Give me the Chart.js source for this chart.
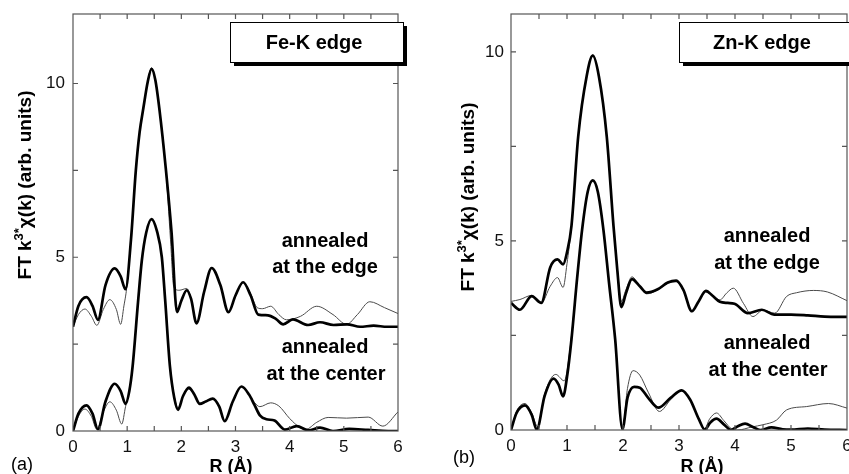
<!DOCTYPE html>
<html><head><meta charset="utf-8">
<script src="https://cdn.jsdelivr.net/npm/chart.js@4.4.1/dist/chart.umd.min.js"></script>
<style>
html,body{margin:0;padding:0;background:#fff;}
body{width:849px;height:474px;overflow:hidden;position:relative;}
canvas{position:absolute;top:0;}
#ca{left:0;} #cb{left:425px;}
</style></head>
<body>
<canvas id="ca" width="425" height="474"></canvas>
<canvas id="cb" width="424" height="474"></canvas>
<script>
// ---------- tick labels ----------
const xMajorTicks = [0, 1, 2, 3, 4, 5, 6];
const yLabelTicks = [0, 5, 10];
const yMarkTicks = [0, 2.5, 5, 7.5, 10];

// ---------- panel (a) Fe-K edge ----------
const feEdgeBoldR = [0,0.1,0.25,0.36,0.46,0.6,0.77,0.88,0.97,1.07,1.16,1.23,1.3,1.38,1.45,1.52,1.6,1.71,1.82,1.92,2.0,2.1,2.18,2.28,2.42,2.56,2.72,2.87,3.0,3.14,3.28,3.42,3.6,3.75,3.88,4.06,4.34,4.56,4.81,5.06,5.3,5.55,5.8,6.0];
const feEdgeBoldV = [3.0,3.6,3.85,3.6,3.2,4.2,4.68,4.45,4.08,5.5,7.5,8.6,9.3,10.05,10.42,10.1,9.2,7.6,5.7,3.42,3.75,4.05,3.8,3.1,4.0,4.69,4.2,3.42,3.9,4.28,3.9,3.35,3.33,3.22,3.07,3.21,3.05,3.13,3.05,3.07,3.0,3.03,3.0,3.0];
const feEdgeThinR = [0,0.1,0.22,0.34,0.44,0.56,0.68,0.8,0.88,0.94,0.99,1.07,1.16,1.23,1.3,1.38,1.45,1.52,1.6,1.71,1.8,1.86,1.96,2.1,2.18,2.28,2.42,2.56,2.72,2.87,3.0,3.14,3.28,3.4,3.5,3.65,3.8,3.94,4.2,4.5,4.8,5.05,5.25,5.48,5.75,6.0];
const feEdgeThinV = [3.0,3.35,3.51,3.3,3.04,3.5,3.78,3.5,3.07,3.6,4.1,5.5,7.5,8.6,9.3,10.05,10.45,10.1,9.2,7.6,5.5,4.15,4.05,4.1,3.8,3.1,4.0,4.69,4.2,3.42,3.9,4.28,3.95,3.55,3.52,3.59,3.35,3.2,3.3,3.59,3.35,3.07,3.35,3.72,3.55,3.38];
const feCenterBoldR = [0,0.1,0.25,0.36,0.46,0.6,0.77,0.88,0.97,1.04,1.1,1.2,1.27,1.35,1.45,1.55,1.64,1.7,1.79,1.87,1.94,2.03,2.14,2.24,2.34,2.45,2.58,2.7,2.8,2.95,3.11,3.25,3.35,3.45,3.57,3.72,3.91,4.13,4.35,4.56,4.8,5.1,5.45,5.82,6.0];
const feCenterBoldV = [0,0.5,0.74,0.5,0.05,0.85,1.36,1.15,0.78,1.15,1.85,3.7,4.9,5.7,6.1,5.75,5.0,3.8,1.85,0.95,0.61,1.0,1.25,1.05,0.78,0.85,0.93,0.7,0.28,0.85,1.28,1.05,0.75,0.45,0.34,0.3,0.04,0.14,0.02,0.1,0.0,0.06,0.03,0.0,0.0];
const feCenterThinR = [0,0.1,0.22,0.34,0.44,0.56,0.68,0.8,0.9,0.97,1.04,1.1,1.2,1.27,1.35,1.45,1.55,1.64,1.7,1.79,1.87,1.94,2.03,2.14,2.24,2.34,2.45,2.58,2.7,2.8,2.95,3.11,3.25,3.35,3.45,3.65,3.8,4.0,4.19,4.3,4.5,4.71,5.05,5.45,5.72,6.0];
const feCenterThinV = [0,0.42,0.63,0.42,0.05,0.55,0.84,0.6,0.2,0.7,1.15,1.85,3.7,4.9,5.7,6.1,5.75,5.0,3.8,1.85,1.0,0.66,1.0,1.2,1.05,0.8,0.85,0.93,0.7,0.3,0.85,1.28,1.05,0.82,0.7,0.81,0.72,0.36,0.1,0.05,0.25,0.39,0.37,0.4,0.14,0.55];

// ---------- panel (b) Zn-K edge ----------
const znEdgeBoldR = [0,0.16,0.37,0.54,0.7,0.83,0.93,1.0,1.08,1.2,1.35,1.46,1.57,1.71,1.83,1.9,1.97,2.05,2.16,2.3,2.42,2.62,2.8,2.95,3.08,3.23,3.35,3.48,3.6,3.73,3.87,3.99,4.23,4.48,4.7,5.0,5.3,5.6,6.0];
const znEdgeBoldV = [3.36,3.18,3.54,3.36,4.3,4.51,4.38,4.7,5.4,7.76,9.35,9.9,9.35,7.76,5.4,4.2,3.25,3.6,3.99,3.8,3.63,3.72,3.9,3.95,3.7,3.14,3.4,3.68,3.55,3.39,3.36,3.34,3.09,3.18,3.05,3.05,3.03,3.0,2.99];
const znEdgeThinR = [0,0.16,0.37,0.54,0.7,0.83,0.93,1.0,1.08,1.2,1.35,1.46,1.57,1.71,1.83,1.9,1.97,2.05,2.16,2.3,2.42,2.62,2.8,2.95,3.08,3.23,3.35,3.48,3.6,3.73,3.85,3.97,4.15,4.32,4.5,4.71,4.92,5.1,5.4,5.65,6.0];
const znEdgeThinV = [3.4,3.45,3.56,3.36,3.8,4.03,3.77,4.4,5.4,7.76,9.35,9.92,9.35,7.76,5.4,4.25,3.4,3.7,4.05,3.8,3.6,3.7,3.88,3.92,3.68,3.15,3.4,3.65,3.55,3.44,3.62,3.75,3.35,3.0,3.17,3.09,3.53,3.63,3.69,3.65,3.42];
const znCenterBoldR = [0,0.1,0.25,0.37,0.46,0.6,0.76,0.85,0.93,1.0,1.08,1.18,1.27,1.37,1.46,1.55,1.65,1.75,1.86,1.99,2.08,2.2,2.3,2.45,2.63,2.85,3.05,3.2,3.35,3.46,3.56,3.67,3.8,3.93,4.05,4.18,4.32,4.45,4.65,4.85,5.0,5.3,5.6,6.0];
const znCenterBoldV = [0,0.45,0.65,0.4,0.01,0.9,1.36,1.2,0.89,1.4,2.4,4.0,5.3,6.3,6.6,6.3,5.3,3.9,2.4,0.02,0.85,1.14,1.12,0.85,0.59,0.85,1.05,0.8,0.3,0.01,0.2,0.3,0.15,0.0,0.1,0.17,0.08,0.0,0.07,0.02,0.01,0.04,0.01,0.0];
const znCenterThinR = [0,0.1,0.25,0.37,0.48,0.6,0.8,0.95,1.05,1.18,1.27,1.37,1.46,1.55,1.65,1.75,1.86,1.99,2.08,2.18,2.3,2.45,2.65,2.85,3.05,3.2,3.35,3.45,3.55,3.67,3.8,3.95,4.05,4.3,4.5,4.74,4.92,5.28,5.67,6.0];
const znCenterThinV = [0,0.5,0.7,0.45,0.08,0.95,1.47,1.3,2.1,4.0,5.3,6.3,6.6,6.3,5.3,3.9,2.4,0.02,1.1,1.57,1.45,1.0,0.49,0.8,1.05,0.8,0.3,0.02,0.3,0.45,0.25,0.02,0.0,0.08,0.14,0.26,0.53,0.62,0.7,0.58];

const FONT = '"Liberation Sans", Arial, Helvetica, sans-serif';
const pts = (R, V) => R.map((r, i) => ({x: r, y: V[i]}));

const framePlugin = {
  id: 'frame',
  afterDatasetsDraw(chart) {
    const {ctx, chartArea: a, scales: {x, y}} = chart;
    ctx.save();
    ctx.strokeStyle = '#555';
    ctx.lineWidth = 1.2;
    ctx.strokeRect(a.left, a.top, a.right - a.left, a.bottom - a.top);
    const L = 5;
    ctx.beginPath();
    x.ticks.forEach(t => {
      const px = x.getPixelForValue(t.value);
      if (px <= a.left + 1 || px >= a.right - 1) return;
      ctx.moveTo(px, a.bottom); ctx.lineTo(px, a.bottom - L);
      ctx.moveTo(px, a.top); ctx.lineTo(px, a.top + L);
    });
    y.ticks.forEach(t => {
      const py = y.getPixelForValue(t.value);
      if (py >= a.bottom - 1) return;
      ctx.moveTo(a.left, py); ctx.lineTo(a.left + L, py);
      ctx.moveTo(a.right, py); ctx.lineTo(a.right - L, py);
    });
    ctx.stroke();
    ctx.restore();
  }
};

function decoPlugin(cfg) {
  return {
    id: 'deco',
    afterDraw(chart) {
      const ctx = chart.ctx;
      ctx.save();
      // label box with shadow
      const b = cfg.box;
      ctx.fillStyle = '#000';
      ctx.fillRect(b.x + 4, b.y + 4, b.w, b.h);
      ctx.fillStyle = '#fff';
      ctx.fillRect(b.x, b.y, b.w, b.h);
      ctx.strokeStyle = '#000'; ctx.lineWidth = 1;
      ctx.strokeRect(b.x + 0.5, b.y + 0.5, b.w, b.h);
      ctx.fillStyle = '#000';
      ctx.textAlign = 'center'; ctx.textBaseline = 'middle';
      ctx.font = 'bold 20px ' + FONT;
      ctx.fillText(b.text, b.tx, b.ty);
      // annotations
      cfg.notes.forEach(n => ctx.fillText(n[0], n[1], n[2]));
      // x title
      ctx.font = 'bold 18px ' + FONT;
      ctx.fillText('R (Å)', cfg.xTitle[0], cfg.xTitle[1]);
      // panel letter
      ctx.font = '18px ' + FONT;
      ctx.textAlign = 'left';
      ctx.fillText(cfg.letter[0], cfg.letter[1], cfg.letter[2]);
      // y title with superscript
      ctx.translate(cfg.yTitle[0], cfg.yTitle[1]);
      ctx.rotate(-Math.PI / 2);
      const big = 'bold 19px ' + FONT, small = 'bold 13px ' + FONT;
      const parts = [['FT k', big, 0], ['3*', small, -7], ['χ(k) (arb. units)', big, 0]];
      let total = 0;
      parts.forEach(p => { ctx.font = p[1]; total += ctx.measureText(p[0]).width; });
      let cx = -total / 2;
      ctx.textBaseline = 'middle';
      parts.forEach(p => {
        ctx.font = p[1];
        ctx.fillText(p[0], cx, p[2]);
        cx += ctx.measureText(p[0]).width;
      });
      ctx.restore();
    }
  };
}

function makeChart(id, cfg) {
  const ds = cfg.series.map(s => ({
    data: pts(s.R, s.V),
    borderColor: s.bold ? '#000' : '#4a4a4a',
    borderWidth: s.bold ? 2.7 : 1,
    pointRadius: 0,
    fill: false,
    cubicInterpolationMode: 'monotone',
    order: s.bold ? 0 : 1
  }));
  return new Chart(document.getElementById(id), {
    type: 'line',
    data: {datasets: ds},
    options: {
      responsive: false, animation: false, devicePixelRatio: 1,
      layout: {padding: cfg.pad},
      plugins: {legend: {display: false}, tooltip: {enabled: false}},
      scales: {
        x: {
          type: 'linear', min: 0, max: 6,
          grid: {display: false, drawTicks: false},
          border: {display: false},
          ticks: {
            stepSize: 0.5, autoSkip: false, maxRotation: 0, minRotation: 0, padding: 6,
            color: '#111', font: {family: FONT, size: 17},
            callback: v => xMajorTicks.includes(v) ? String(v) : ''
          },
          afterFit: s => { s.height = cfg.xh; s.paddingLeft = 0; s.paddingRight = 0; }
        },
        y: {
          type: 'linear', min: 0, max: cfg.yMax,
          grid: {display: false, drawTicks: false},
          border: {display: false},
          ticks: {
            padding: cfg.ypad, color: '#111', font: {family: FONT, size: 17},
            callback: v => yLabelTicks.includes(v) ? String(v) : ''
          },
          afterBuildTicks: s => { s.ticks = yMarkTicks.map(v => ({value: v})); },
          afterFit: s => { s.width = cfg.yw; s.paddingTop = 0; s.paddingBottom = 0; }
        }
      }
    },
    plugins: [framePlugin, decoPlugin(cfg)]
  });
}

makeChart('ca', {
  pad: {left: 0, top: 14, right: 27, bottom: 0}, yw: 73, xh: 43, yMax: 12, ypad: 8,
  series: [
    {R: feEdgeBoldR, V: feEdgeBoldV, bold: true},
    {R: feCenterBoldR, V: feCenterBoldV, bold: true},
    {R: feEdgeThinR, V: feEdgeThinV, bold: false},
    {R: feCenterThinR, V: feCenterThinV, bold: false}
  ],
  box: {x: 230, y: 22, w: 173, h: 40, text: 'Fe-K edge', tx: 314, ty: 43},
  notes: [['annealed', 325, 241], ['at the edge', 325, 267], ['annealed', 325, 347], ['at the center', 326, 374]],
  xTitle: [231, 467], letter: ['(a)', 11, 465], yTitle: [26, 185]
});

makeChart('cb', {
  pad: {left: 0, top: 14, right: 2, bottom: 0}, yw: 86, xh: 44, yMax: 11, ypad: 7,
  series: [
    {R: znEdgeBoldR, V: znEdgeBoldV, bold: true},
    {R: znCenterBoldR, V: znCenterBoldV, bold: true},
    {R: znEdgeThinR, V: znEdgeThinV, bold: false},
    {R: znCenterThinR, V: znCenterThinV, bold: false}
  ],
  box: {x: 254, y: 22, w: 200, h: 40, text: 'Zn-K edge', tx: 337, ty: 43},
  notes: [['annealed', 342, 236], ['at the edge', 342, 263], ['annealed', 342, 343], ['at the center', 343, 370]],
  xTitle: [277, 467], letter: ['(b)', 28, 458], yTitle: [44, 197]
});
</script>
</body></html>
